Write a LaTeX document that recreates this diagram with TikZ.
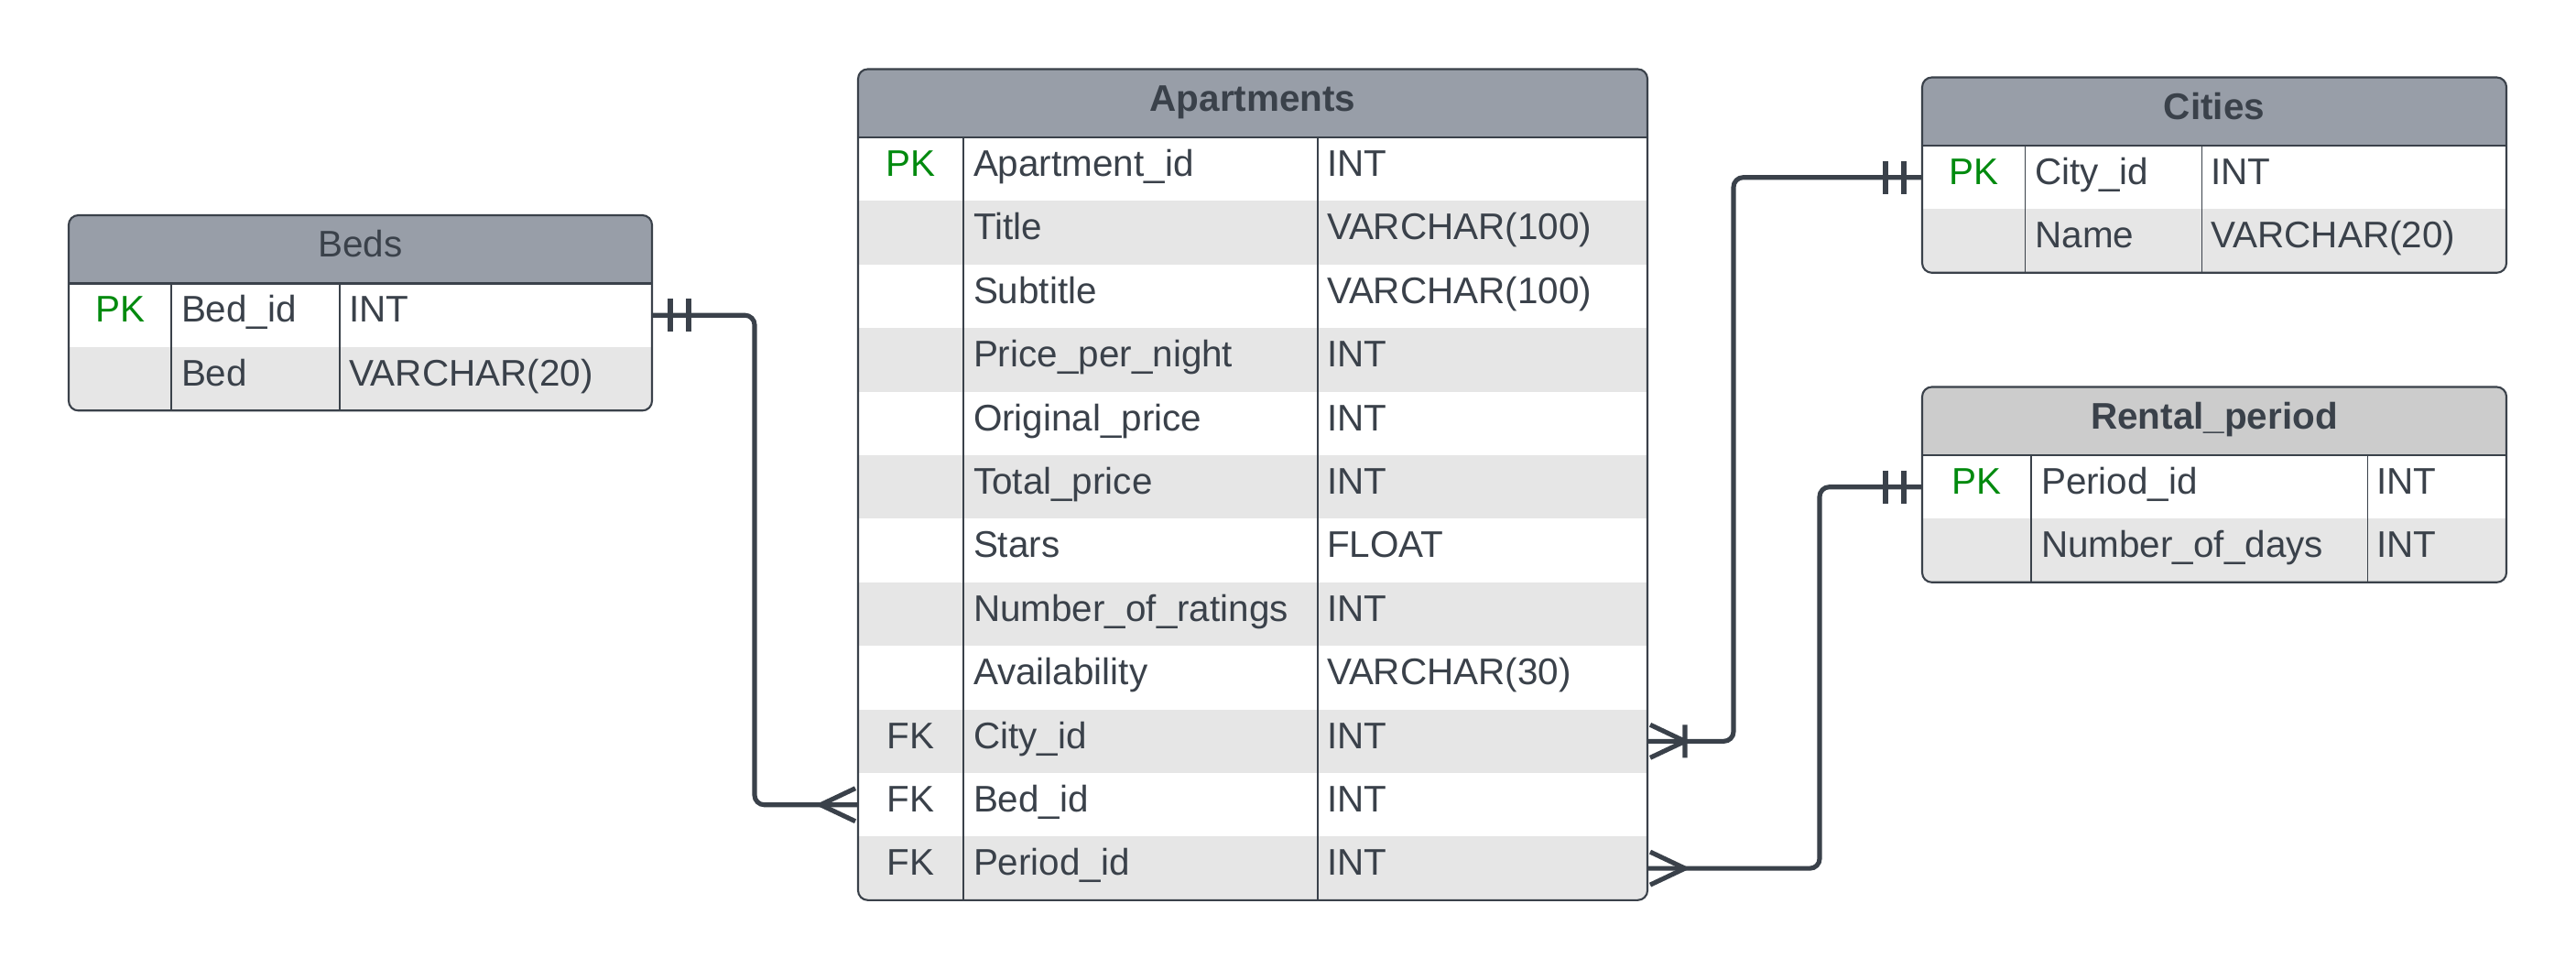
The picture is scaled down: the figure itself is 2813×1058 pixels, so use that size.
\documentclass[tikz,border=0pt]{standalone}
\usepackage{fontspec}
\setmainfont{Liberation Sans}

\definecolor{ink}{HTML}{3A414A}
\definecolor{hdgray}{HTML}{989EA8}
\definecolor{hdlight}{HTML}{CCCCCC}
\definecolor{rowgray}{HTML}{E6E6E6}
\definecolor{pkgreen}{HTML}{008A0E}

\tikzset{
	erline/.style={draw=ink, line width=1.45pt},
	tabline/.style={draw=ink, line width=0.6pt},
	colline/.style={draw=ink, line width=0.45pt},
	hdA/.style={fill=hdgray, minimum height=0.745cm},
	hdB/.style={fill=hdlight, minimum height=0.745cm},
	rowcell/.style={minimum height=0.694cm},
	row1/.style={rowcell, fill=white},
	row0/.style={rowcell, fill=rowgray},
	field/.style={anchor=base west},
	pk/.style={anchor=base, text=pkgreen},
	fk/.style={anchor=base},
	twobar/.pic={\draw[erline] (20,-18) -- (20,18) (40,-18) -- (40,18);},
	crow/.pic={\draw[erline] (3,-18) -- (41,0) -- (3,18);},
	crowbar/.pic={\draw[erline] (3,-18) -- (41,0) -- (3,18) (41,-18) -- (41,18);}
}

% name, x, y, width, col1, col2, header style, title, rows
\newcommand{\ertable}[9]{%
	\foreach \x [count=\i] in {#9} {\xdef\ertrows{\i}}
	\pgfmathsetmacro\ertbot{#3+74.5+\ertrows*69.4}
	\begin{scope}
		\clip[rounded corners=3pt] (#2,#3) rectangle ({#2+#4},\ertbot);
		\node[#7, minimum width={#4*0.01cm}, anchor=north west] (#1) at (#2,#3) {};
		\node[anchor=base] (#1-title) at ({#2+#4/2},{#3+46}) {#8};
		\foreach \st/\kk/\nm/\ty [count=\i, evaluate=\i as \c using int(\i-2*floor(\i/2))] in {#9} {
			\node[row\c, minimum width={#4*0.01cm}, anchor=north west] (#1-\i) at (#2,{#3+74.5+(\i-1)*69.4}) {};
			\node[\st] (#1-k\i) at ({#2+#5/2},{#3+117+(\i-1)*69.4}) {\kk};
			\node[field] (#1-n\i) at ({#2+#5+11},{#3+117+(\i-1)*69.4}) {\nm};
			\node[field] (#1-t\i) at ({#2+#6+10},{#3+117+(\i-1)*69.4}) {\ty};
		}
	\end{scope}
	\draw[tabline, rounded corners=3pt] (#2,#3) rectangle ({#2+#4},\ertbot);
	\draw[tabline] (#1.south west) -- (#1.south east);
	\draw[colline] ({#2+#5},{#3+74.5}) -- ({#2+#5},\ertbot) ({#2+#6},{#3+74.5}) -- ({#2+#6},\ertbot);
}

\begin{document}
\begin{tikzpicture}[x=0.01cm, y=-0.01cm, every node/.style={font=\fontsize{11.5}{14}\selectfont, text=ink, inner sep=0pt, outer sep=0pt}]
	\useasboundingbox (0,0) rectangle (2813,1058);

	\ertable{beds}{75}{235}{637}{112}{296}{hdA}{Beds}{pk/PK/Bed\_id/INT, fk//Bed/VARCHAR(20)}
	\ertable{apt}{937}{75.5}{862}{115}{502}{hdA}{\textbf{Apartments}}{pk/PK/Apartment\_id/INT, fk//Title/VARCHAR(100), fk//Subtitle/VARCHAR(100), fk//Price\_per\_night/INT, fk//Original\_price/INT, fk//Total\_price/INT, fk//Stars/FLOAT, fk//Number\_of\_ratings/INT, fk//Availability/VARCHAR(30), fk/FK/City\_id/INT, fk/FK/Bed\_id/INT, fk/FK/Period\_id/INT}
	\ertable{cities}{2099}{84.5}{638}{112.5}{305.5}{hdA}{\textbf{Cities}}{pk/PK/City\_id/INT, fk//Name/VARCHAR(20)}
	\ertable{rental}{2099}{422.5}{638}{119}{486.5}{hdB}{\textbf{Rental\_period}}{pk/PK/Period\_id/INT, fk//Number\_of\_days/INT}

	\draw[erline, rounded corners=3pt] (beds-1.east) -- ++(112,0) |- (apt-11.west);
	\draw[erline, rounded corners=3pt] (apt-10.east) -- ++(94,0) |- (cities-1.west);
	\draw[erline, rounded corners=3pt] (apt-12.east) -- ++(188,0) |- (rental-1.west);

	\pic at (beds-1.east) {twobar};
	\pic[xscale=-1] at (apt-11.west) {crow};
	\pic at (apt-10.east) {crowbar};
	\pic[xscale=-1] at (cities-1.west) {twobar};
	\pic at (apt-12.east) {crow};
	\pic[xscale=-1] at (rental-1.west) {twobar};
\end{tikzpicture}
\end{document}
